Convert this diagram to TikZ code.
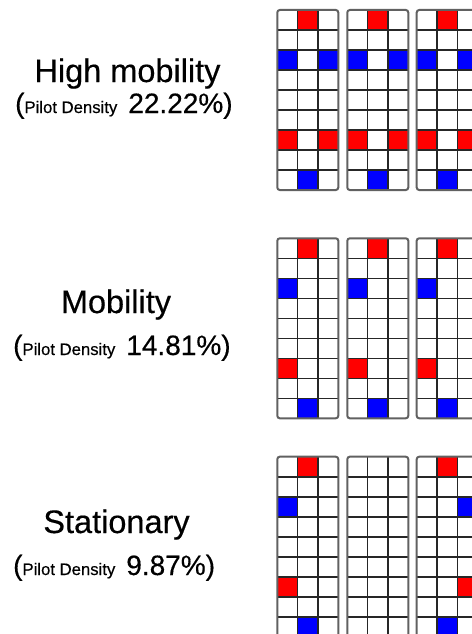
\documentclass[tikz,border=0pt]{standalone}
\usepackage{fontspec}
\setmainfont{Liberation Sans}
\newfontfamily\heavyfont[FakeBold=0.4]{Liberation Sans}
\definecolor{pred}{RGB}{255,0,0}
\definecolor{pblue}{RGB}{0,0,255}
\tikzset{
  gridline/.style={draw=black!85, line width=1.6pt},
  gridframe/.style={draw=black!62, line width=2pt, rounded corners=2.5pt},
  titletext/.style={inner sep=0pt, font=\heavyfont\fontsize{32.5}{38}\selectfont},
  denstext/.style={inner sep=0pt, font=\heavyfont\fontsize{28}{34}\selectfont},
}
\newcommand\pilotgrid[3]{%
  \begin{scope}[shift={(#1,#2)}]
    \foreach \c/\r/\col in {#3} {
      \fill[\col] (\c*20.33,\r*20) rectangle ++(20.33,20);
    }
    \foreach \i in {1,2} { \draw[gridline] (\i*20.33,0) -- (\i*20.33,180); }
    \foreach \j in {1,...,8} { \draw[gridline] (0,\j*20) -- (61,\j*20); }
    \draw[gridframe] (0,0) rectangle (61,180);
  \end{scope}%
}
\newcommand\dens[1]{(\fontsize{16.7}{18}\selectfont Pilot Density\hspace{11pt}\fontsize{28}{34}\selectfont #1\%)}
\begin{document}
\begin{tikzpicture}[x=1pt,y=-1pt]
\useasboundingbox (0,0) rectangle (471,634);
\fill[white] (0,0) rectangle (471,634);
% High mobility
\foreach \gx in {277.3,347.3,416.7} {
  \pilotgrid{\gx}{10}{1/0/pred,0/2/pblue,2/2/pblue,0/6/pred,2/6/pred,1/8/pblue}
}
% Mobility
\foreach \gx in {277.3,347.3,416.7} {
  \pilotgrid{\gx}{238.3}{1/0/pred,0/2/pblue,0/6/pred,1/8/pblue}
}
% Stationary
\pilotgrid{277.3}{456.7}{1/0/pred,0/2/pblue,0/6/pred,1/8/pblue}
\pilotgrid{347.3}{456.7}{}
\pilotgrid{416.7}{456.7}{1/0/pred,2/2/pblue,2/6/pred,1/8/pblue}

\node[titletext, anchor=base] (hm) at (127.5,82) {High mobility};
\node[denstext, anchor=base west] (hmd) at (15,113) {\dens{22.22}};
\node[titletext, anchor=base] (mo) at (116,313) {Mobility};
\node[denstext, anchor=base west] (mod) at (13,355) {\dens{14.81}};
\node[titletext, anchor=base] (st) at (116.5,533) {Stationary};
\node[denstext, anchor=base west] (std) at (13,575) {\dens{9.87}};
\end{tikzpicture}
\end{document}
